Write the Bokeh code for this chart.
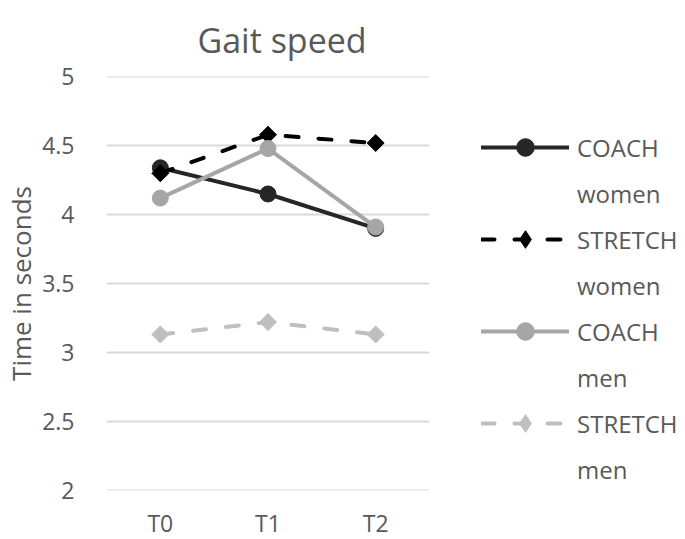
import math
from bokeh.plotting import figure
from bokeh.models import FactorRange, FixedTicker, Legend, LegendItem, ColumnDataSource
from bokeh.embed import file_html
from bokeh.resources import INLINE

times = ["T0", "T1", "T2"]
coach_women = [4.34, 4.15, 3.90]
stretch_women = [4.30, 4.58, 4.52]
coach_men = [4.12, 4.48, 3.91]
stretch_men = [3.13, 3.22, 3.13]
y_ticks = [2, 2.5, 3, 3.5, 4, 4.5, 5]
y_tick_labels = ["2", "2.5", "3", "3.5", "4", "4.5", "5"]

FONT = "Open Sans"
TXT = "#595959"

p = figure(x_range=FactorRange(*times), y_range=(1.997, 5.003),
           frame_width=323, frame_height=414,
           min_border_left=99, min_border_top=76, min_border_right=244, min_border_bottom=41,
           output_backend="svg", toolbar_location=None, title="Gait speed")
p.outline_line_color = None
p.background_fill_color = "white"
p.border_fill_color = "white"

p.title.text_font = FONT
p.title.text_font_size = "34px"
p.title.text_font_style = "normal"
p.title.text_color = TXT
p.title.align = "left"
p.title.offset = 91
p.title.standoff = 27

p.xgrid.grid_line_color = None
p.ygrid.grid_line_color = "#D9D9D9"
p.ygrid.grid_line_width = 2
p.yaxis.ticker = FixedTicker(ticks=y_ticks)
p.yaxis.major_label_overrides = {t: l for t, l in zip(y_ticks, y_tick_labels)}

for ax in (p.xaxis[0], p.yaxis[0]):
    ax.axis_line_color = None
    ax.major_tick_line_color = None
    ax.minor_tick_line_color = None
    ax.major_label_text_font = FONT
    ax.major_label_text_font_size = "23px"
    ax.major_label_text_color = TXT
p.yaxis.major_label_standoff = 26
p.xaxis.major_label_standoff = 10

p.yaxis.axis_label = "Time in seconds"
p.yaxis.axis_label_text_font = FONT
p.yaxis.axis_label_text_font_size = "26px"
p.yaxis.axis_label_text_font_style = "normal"
p.yaxis.axis_label_text_color = TXT
p.yaxis.axis_label_standoff = 0

series = [
    ("COACH", "women", coach_women, "#262626", None, "circle"),
    ("STRETCH", "women", stretch_women, "#000000", "13 20", "diamond"),
    ("COACH", "men", coach_men, "#A6A6A6", None, "circle"),
    ("STRETCH", "men", stretch_men, "#BFBFBF", "13 20", "diamond"),
]

items = []
for group, sex, vals, color, dash, marker in series:
    src = ColumnDataSource(dict(x=times, y=vals))
    kw = dict(line_dash=dash) if dash else {}
    ln = p.line("x", "y", source=src, line_color=color, line_width=4, line_cap="round", **kw)
    if marker == "circle":
        mk = p.scatter("x", "y", source=src, marker="circle", size=16,
                       fill_color=color, line_color=color)
    else:
        p.scatter("x", "y", source=src, marker="square", size=12, angle=math.pi / 4,
                  fill_color=color, line_color=color)
        mk = p.scatter("x", "y", source=src, marker="diamond", size=16,
                       fill_color=color, line_color=color)
    # invisible twin used only to carry the second legend line
    ghost = p.line("x", "y", source=src, line_alpha=0)
    items.append(LegendItem(label=group, renderers=[ln, mk]))
    items.append(LegendItem(label=sex, renderers=[ghost]))

legend = Legend(items=items, location=(52, -1), orientation="vertical",
                glyph_width=88, glyph_height=44, label_standoff=8, spacing=2,
                padding=0, margin=0, border_line_color=None, background_fill_alpha=0,
                label_text_font=FONT, label_text_font_size="24px", label_text_color=TXT)
p.add_layout(legend, "right")

open("out.html", "w").write(file_html(p, INLINE))
